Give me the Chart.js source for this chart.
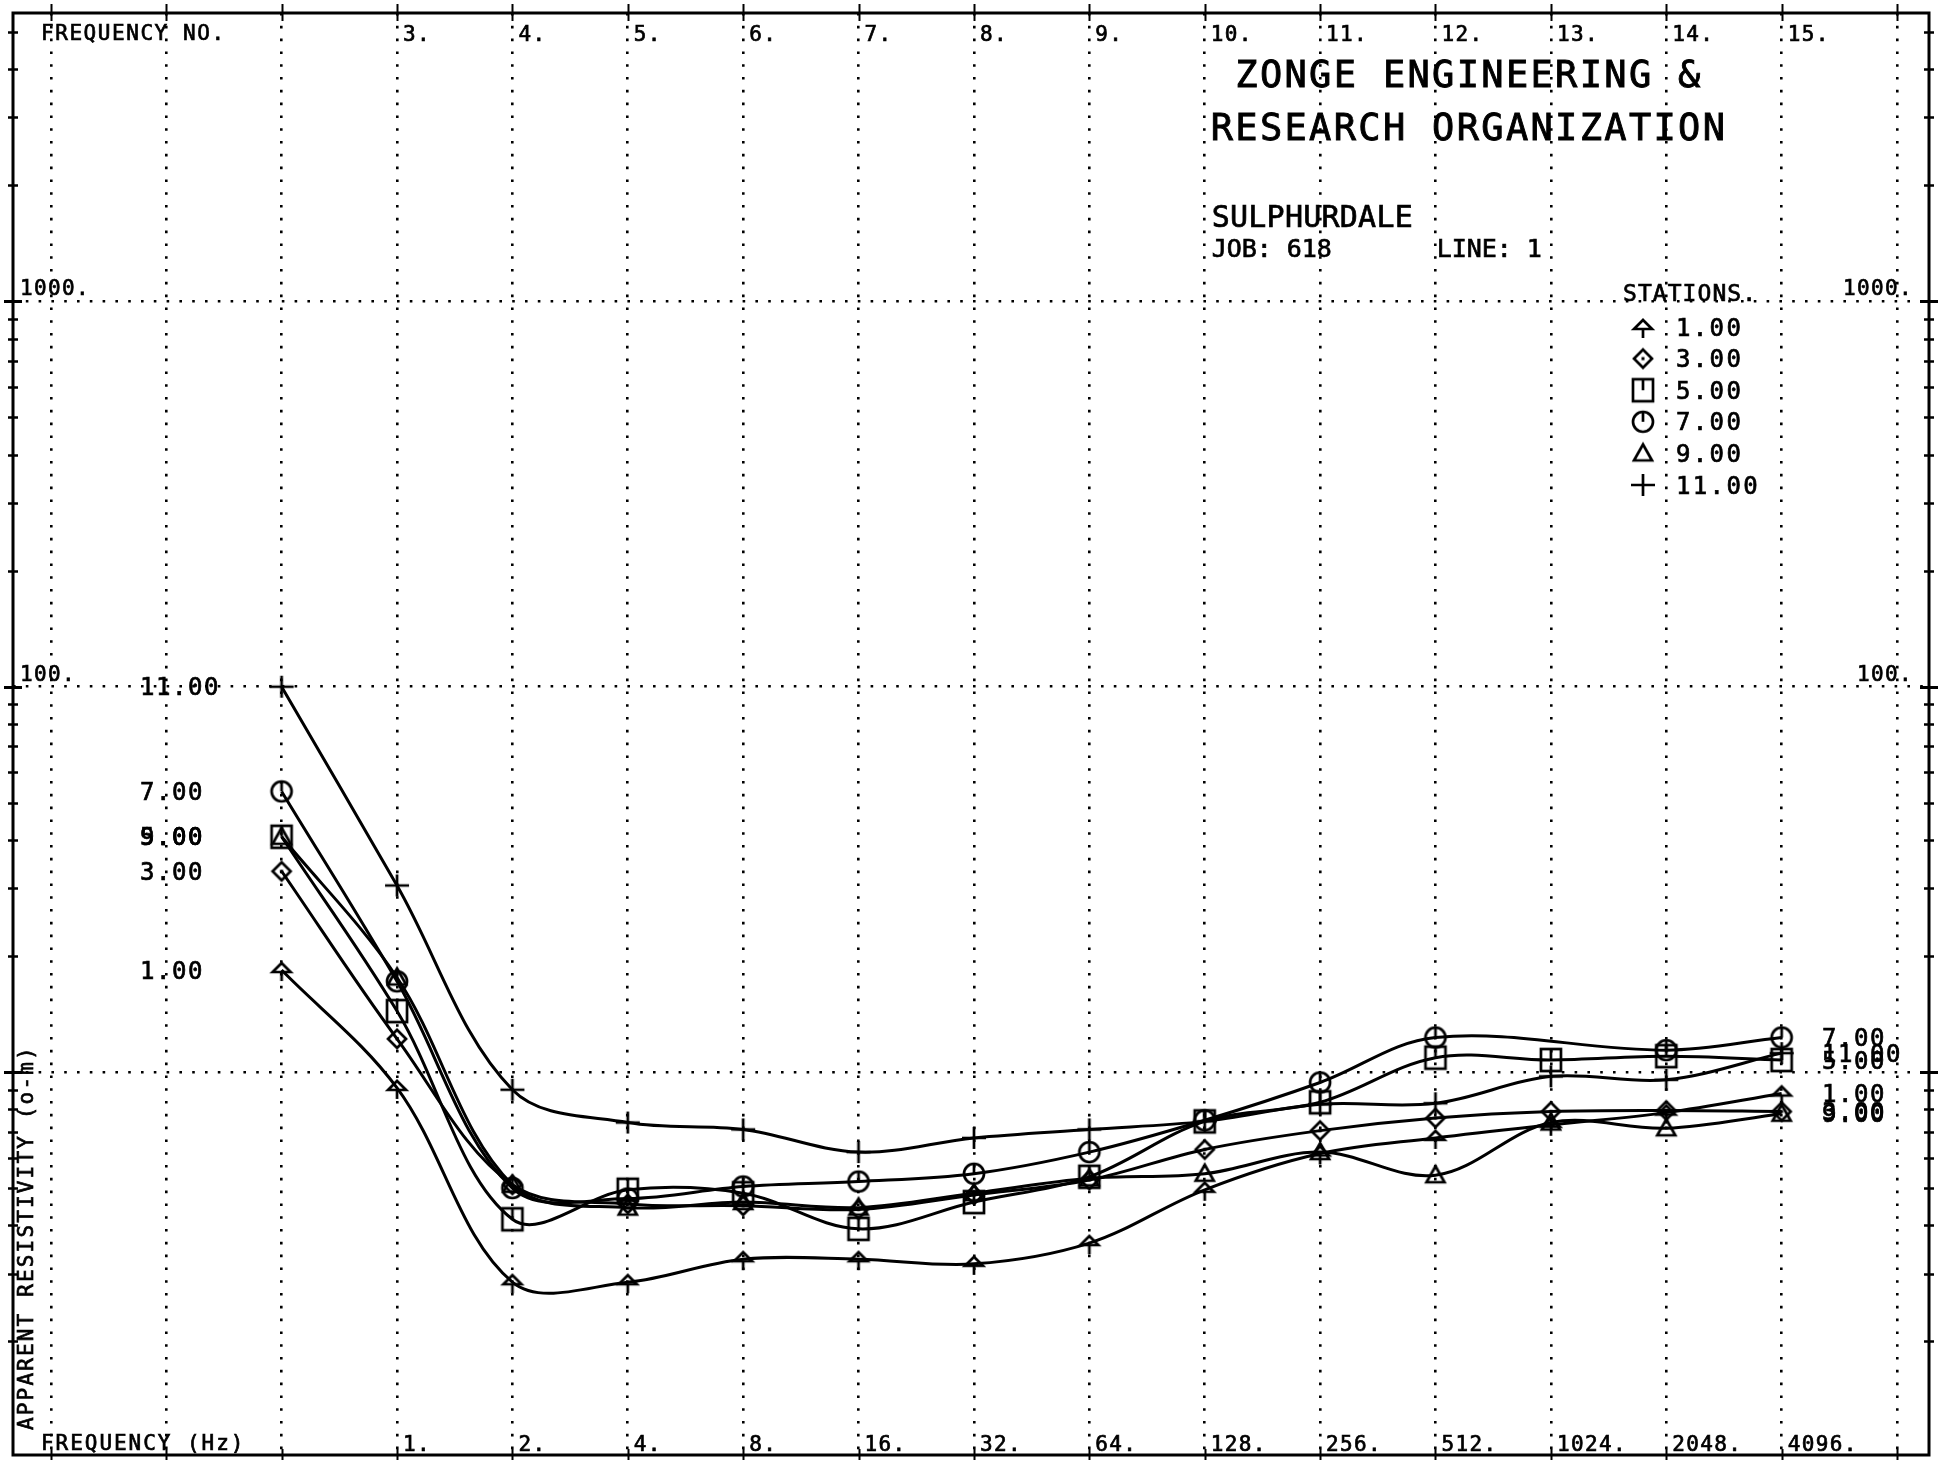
<!DOCTYPE html>
<html>
<head>
<meta charset="utf-8">
<script src="https://cdn.jsdelivr.net/npm/chart.js@4.4.1/dist/chart.umd.min.js"></script>
<style>
  html, body { margin: 0; padding: 0; background: #fff; }
  #wrap { width: 1942px; height: 1468px; }
</style>
</head>
<body>
<div id="wrap"><canvas id="plot" width="1942" height="1468"></canvas></div>
<script>
// Frequency numbers of the soundings (x) and their frequencies in Hz
const FREQ_NO = [2, 3, 4, 5, 6, 7, 8, 9, 10, 11, 12, 13, 14, 15];
const FREQ_HZ = [0.5, 1, 2, 4, 8, 16, 32, 64, 128, 256, 512, 1024, 2048, 4096];

// Tick labels along the top (frequency number) and bottom (frequency, Hz), grid index 0..16
const TOP_TICK_LABELS = ['', '', '', '3.', '4.', '5.', '6.', '7.', '8.', '9.', '10.', '11.', '12.', '13.', '14.', '15.', ''];
const BOTTOM_TICK_LABELS = ['', '', '', '1.', '2.', '4.', '8.', '16.', '32.', '64.', '128.', '256.', '512.', '1024.', '2048.', '4096.', ''];

// Resistivity axis labels
const Y_LABEL_VALUES = [100, 1000];
const Y_LABEL_TEXT = ['100.', '1000.'];

// Station names
const STATIONS = ['1.00', '3.00', '5.00', '7.00', '9.00', '11.00'];

// Apparent resistivity (ohm-m) per station, one value per frequency
const ST_1  = [18.4, 9.1, 2.85, 2.85, 3.27, 3.27, 3.18, 3.6, 4.95, 6.15, 6.75, 7.3, 7.85, 8.8];
const ST_3  = [33.2, 12.2, 5.1, 4.55, 4.5, 4.4, 4.8, 5.25, 6.3, 7.05, 7.6, 7.9, 7.95, 7.9];
const ST_5  = [40.8, 14.4, 4.15, 4.95, 4.85, 3.92, 4.6, 5.35, 7.45, 8.35, 10.9, 10.75, 11.0, 10.75];
const ST_7  = [53.5, 17.2, 5.0, 4.7, 5.05, 5.2, 5.45, 6.2, 7.5, 9.4, 12.3, null, 11.4, 12.3];
const ST_9  = [40.8, 17.6, 5.1, 4.45, 4.6, 4.45, 4.85, 5.3, 5.45, 6.2, 5.4, 7.4, 7.15, 7.8];
const ST_11 = [100, 30.5, 9.0, 7.4, 7.1, 6.2, 6.75, 7.1, 7.45, 8.25, 8.3, 9.75, 9.55, 11.2];

const SERIES = [ST_1, ST_3, ST_5, ST_7, ST_9, ST_11];

// ---- plotter-style marker symbols ----
function makeMarker(draw) {
  const size = 36;
  const c = document.createElement('canvas');
  c.width = size; c.height = size;
  const g = c.getContext('2d');
  g.translate(size / 2, size / 2);
  g.lineWidth = 2.7;
  g.strokeStyle = '#000';
  g.fillStyle = '#000';
  draw(g);
  return c;
}
const MARKERS = [
  // arrow head on a stem
  makeMarker(g => {
    g.beginPath(); g.moveTo(-9, 2); g.lineTo(0, -7); g.lineTo(9, 2); g.closePath(); g.stroke();
    g.beginPath(); g.moveTo(0, 2); g.lineTo(0, 11); g.stroke();
  }),
  // diamond with centre dot
  makeMarker(g => {
    g.beginPath(); g.moveTo(0, -9); g.lineTo(9, 0); g.lineTo(0, 9); g.lineTo(-9, 0); g.closePath(); g.stroke();
    g.fillRect(-1.5, -1.5, 3, 3);
  }),
  // square with inner bar
  makeMarker(g => {
    g.strokeRect(-10, -11, 20, 22);
    g.beginPath(); g.moveTo(0, -11); g.lineTo(0, 0); g.stroke();
  }),
  // circle with inner bar
  makeMarker(g => {
    g.beginPath(); g.arc(0, 0, 10, 0, Math.PI * 2); g.stroke();
    g.beginPath(); g.moveTo(0, -10); g.lineTo(0, 0); g.stroke();
  }),
  // triangle
  makeMarker(g => {
    g.beginPath(); g.moveTo(0, -9); g.lineTo(9, 7); g.lineTo(-9, 7); g.closePath(); g.stroke();
  }),
  // plus
  makeMarker(g => {
    g.beginPath(); g.moveTo(-12, 0); g.lineTo(12, 0); g.moveTo(0, -11); g.lineTo(0, 11); g.stroke();
  })
];

// ---- fixed-pitch text, like a pen plotter ----
const FONT = '"DejaVu Sans Mono", "Liberation Mono", monospace';
function plotText(ctx, str, x, y, pitch, size) {
  ctx.font = size + 'px ' + FONT;
  ctx.textAlign = 'left';
  ctx.textBaseline = 'alphabetic';
  ctx.fillStyle = '#000';
  ctx.strokeStyle = '#000';
  ctx.lineWidth = size > 30 ? 0.9 : 0.7;
  [...str].forEach((ch, i) => {
    ctx.fillText(ch, x + i * pitch, y);
    ctx.strokeText(ch, x + i * pitch, y);
  });
}

const plotterPlugin = {
  id: 'plotter',
  beforeDraw(chart) {
    const ctx = chart.ctx;
    ctx.save();
    ctx.fillStyle = '#fff';
    ctx.fillRect(0, 0, chart.width, chart.height);
    ctx.restore();
  },
  afterDraw(chart) {
    const ctx = chart.ctx;
    const a = chart.chartArea;
    const xs = chart.scales.x, ys = chart.scales.y;
    ctx.save();

    // frame
    ctx.strokeStyle = '#000';
    ctx.lineWidth = 3;
    ctx.strokeRect(a.left, a.top, a.right - a.left, a.bottom - a.top);

    // frame ticks on top and bottom at every frequency column
    ctx.lineWidth = 2;
    for (let i = 0; i <= 16; i++) {
      const px = Math.round(xs.getPixelForValue(i)) + 0.5;
      ctx.beginPath();
      ctx.moveTo(px, a.top - 9); ctx.lineTo(px, a.top + 8);
      ctx.moveTo(px, a.bottom - 6); ctx.lineTo(px, a.bottom + 5);
      ctx.stroke();
    }
    // log ticks on left and right
    for (let dec = 1; dec <= 1000; dec *= 10) {
      for (let m = 1; m <= 9; m++) {
        const v = dec * m;
        if (v < ys.min || v > ys.max) continue;
        const py = Math.round(ys.getPixelForValue(v)) + 0.5;
        const len = m === 1 ? 9 : 5;
        ctx.lineWidth = m === 1 ? 3 : 2.5;
        ctx.beginPath();
        ctx.moveTo(a.left - len, py); ctx.lineTo(a.left + len, py);
        ctx.moveTo(a.right - len, py); ctx.lineTo(a.right + len, py);
        ctx.stroke();
      }
    }

    // axis captions and tick labels
    plotText(ctx, 'FREQUENCY NO.', 41, a.top + 27, 14.2, 21);
    plotText(ctx, 'FREQUENCY (Hz)', 41, a.bottom - 5, 14.6, 21);
    TOP_TICK_LABELS.forEach((t, i) => {
      if (t) plotText(ctx, t, xs.getPixelForValue(i) + 6, a.top + 28, 14, 21);
    });
    BOTTOM_TICK_LABELS.forEach((t, i) => {
      if (t) plotText(ctx, t, xs.getPixelForValue(i) + 6, a.bottom - 4, 14, 21);
    });
    Y_LABEL_VALUES.forEach((v, i) => {
      const t = Y_LABEL_TEXT[i];
      const py = ys.getPixelForValue(v) - 6;
      plotText(ctx, t, a.left + 7, py, 14, 21);
      plotText(ctx, t, a.right - 16 - t.length * 14, py, 14, 21);
    });

    // rotated resistivity caption
    ctx.save();
    ctx.translate(33, 1430);
    ctx.rotate(-Math.PI / 2);
    plotText(ctx, 'APPARENT RESISTIVITY (o-m)', 0, 0, 14.8, 21);
    ctx.restore();

    // title block
    const tx = xs.getPixelForValue(10) + 6;
    plotText(ctx, ' ZONGE ENGINEERING &', tx, 87, 24.6, 37);
    plotText(ctx, 'RESEARCH ORGANIZATION', tx, 140, 24.6, 37);
    plotText(ctx, 'SULPHURDALE', tx + 1, 227, 18.3, 30);
    plotText(ctx, 'JOB: 618       LINE: 1', tx + 1, 257, 15, 25);

    // station key
    plotText(ctx, 'STATIONS.', 1623, ys.getPixelForValue(1000), 14.9, 23);
    STATIONS.forEach((s, i) => {
      const cy = 327 + i * 31.6;
      const m = MARKERS[i];
      ctx.drawImage(m, 1643 - m.width / 2, cy - m.height / 2);
      plotText(ctx, s, 1676, cy + 8.5, 16.8, 24);
    });

    // station names at both ends of each curve
    SERIES.forEach((arr, i) => {
      const first = arr.find(v => v != null);
      const last = [...arr].reverse().find(v => v != null);
      plotText(ctx, STATIONS[i], 140, ys.getPixelForValue(first) + 8.5, 16, 24);
      plotText(ctx, STATIONS[i], 1822, ys.getPixelForValue(last) + 8.5, 16, 24);
    });

    ctx.restore();
  }
};

const datasets = SERIES.map((arr, i) => ({
  label: STATIONS[i],
  data: FREQ_NO.map((x, k) => ({ x, y: arr[k] })),
  borderColor: '#000',
  borderWidth: 3,
  tension: 0.35,
  spanGaps: true,
  pointStyle: MARKERS[i],
  pointRadius: 10,
  fill: false
}));

new Chart(document.getElementById('plot'), {
  type: 'line',
  data: { datasets },
  plugins: [plotterPlugin],
  options: {
    responsive: false,
    animation: false,
    events: [],
    layout: { padding: { left: 8, top: 13, right: 11, bottom: 3.4 } },
    plugins: { legend: { display: false }, tooltip: { enabled: false }, title: { display: false } },
    scales: {
      x: {
        type: 'linear',
        min: -0.328,
        max: 16.277,
        afterBuildTicks: s => { s.ticks = Array.from({ length: 17 }, (_, i) => ({ value: i })); },
        ticks: { display: false },
        grid: { color: '#000', lineWidth: 2.6, drawTicks: false },
        border: { display: false, dash: [2.6, 10.2] }
      },
      y: {
        type: 'logarithmic',
        min: 1.015,
        max: 5600,
        afterBuildTicks: s => { s.ticks = [10, 100, 1000].map(v => ({ value: v })); },
        ticks: { display: false },
        grid: { color: '#000', lineWidth: 2.6, drawTicks: false },
        border: { display: false, dash: [2.6, 10.2] }
      }
    }
  }
});
</script>
</body>
</html>
